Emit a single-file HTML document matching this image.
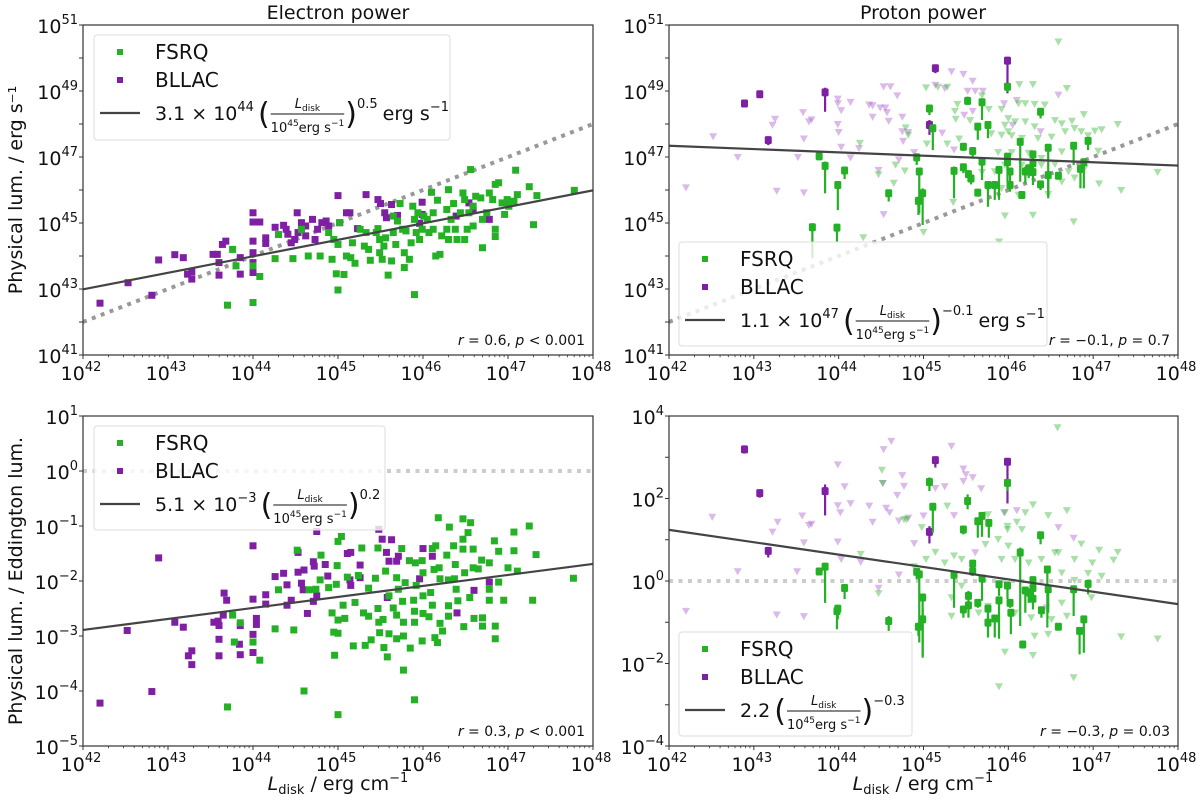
<!DOCTYPE html>
<html><head><meta charset="utf-8"><style>
html,body{margin:0;padding:0;background:#fff;}
svg{display:block;font-family:"DejaVu Sans","Liberation Sans",sans-serif;}
</style></head><body>
<svg id="fig" width="1200" height="805" viewBox="0 0 1200 805" xmlns="http://www.w3.org/2000/svg"></svg>
<script>
// ===== DATA (log10 values) =====
const tlBllacX=[42.20,42.53,42.81,42.89,43.08,43.18,43.23,43.28,43.28,43.53,43.58,43.60,43.60,43.64,43.68,43.85,43.85,44.00,44.00,44.00,44.00,44.00,44.00,44.08,44.15,44.15,44.26,44.36,44.39,44.41,44.45,44.49,44.52,44.53,44.57,44.57,44.62,44.62,44.70,44.73,44.76,44.81,44.86,44.89,45.00,45.02,45.10,45.14,45.23,45.33,45.47,45.50,45.55,45.57,45.63,45.70,45.99,45.96,45.99,46.59,46.78,46.39,46.54];
const tlBllacY=[42.57,43.19,42.81,43.88,44.04,43.95,43.45,43.52,43.30,44.05,44.05,43.80,43.42,44.35,44.45,43.95,43.45,45.31,45.03,44.45,44.10,43.80,43.50,45.03,44.55,44.38,44.87,44.93,44.81,44.66,44.40,44.50,45.31,44.71,44.81,45.01,44.91,44.61,45.11,44.50,44.81,45.01,45.06,44.91,45.83,45.01,45.31,45.31,44.83,45.86,45.71,45.59,45.31,45.16,45.56,45.23,45.63,44.99,45.26,45.39,45.11,45.21,45.61];
const tlFsrqX=[43.70,44.00,43.76,43.80,44.00,44.08,44.26,44.30,44.47,44.57,44.65,44.79,44.89,44.93,44.95,44.98,45.00,45.02,45.00,45.07,45.10,45.15,45.17,45.20,45.26,45.31,45.33,45.36,45.38,45.45,45.47,45.49,45.52,45.54,45.56,45.59,45.63,45.65,45.68,45.70,45.73,45.76,45.78,45.78,45.80,45.84,45.86,45.88,45.90,45.92,45.94,45.96,45.99,46.01,46.05,46.07,46.10,46.12,46.15,46.17,46.20,46.22,46.28,46.30,46.30,46.33,46.36,46.38,46.40,46.44,46.47,46.49,46.52,46.54,46.56,46.59,46.59,46.62,46.68,46.70,46.70,46.75,46.78,46.82,46.85,46.85,46.85,46.89,46.93,46.96,46.99,47.01,47.07,47.09,47.11,47.25,47.30,47.34,47.78,45.90,45.65,45.49,46.28,46.12,46.49];
const tlFsrqY=[42.51,42.59,44.20,43.70,43.70,43.38,43.92,44.65,43.92,44.81,44.00,44.00,44.71,43.90,44.50,43.46,44.35,45.01,42.97,43.44,44.00,43.95,44.40,43.78,44.81,44.30,44.71,44.20,43.87,44.71,44.83,44.10,43.90,44.30,44.55,43.42,43.85,44.71,44.35,45.06,45.59,44.81,44.10,43.65,44.76,43.90,44.40,45.51,42.83,44.71,45.31,44.50,44.81,45.21,45.11,44.71,45.93,45.31,44.00,45.69,44.05,44.61,45.41,46.01,44.50,45.11,45.59,44.81,44.50,45.31,45.91,45.71,44.81,45.31,46.62,45.51,44.91,45.81,45.76,44.25,45.11,45.31,45.91,45.71,46.17,44.81,44.59,46.22,45.61,45.26,45.71,45.51,45.66,46.60,45.86,46.10,44.95,45.83,45.99,45.11,45.21,44.50,44.81,44.81,44.50];

const blBllacX=[42.20,42.52,42.81,42.89,43.08,43.18,43.24,43.28,43.28,43.54,43.59,43.60,43.60,43.60,43.65,43.66,43.69,43.84,43.85,43.85,44.00,44.00,44.00,44.00,44.04,44.04,44.15,44.15,44.26,44.36,44.40,44.40,44.45,44.53,44.53,44.57,44.59,44.60,44.64,44.71,44.71,44.72,44.75,44.75,44.85,44.88,45.11,45.15,45.14,45.15,45.26,45.26,45.48,45.52,45.57,45.58,45.60,45.63,45.69,45.71,45.96,46.00,46.11,46.40,46.60,46.78];
const blBllacY=[-4.22,-2.90,-4.01,-1.58,-2.75,-2.84,-3.36,-3.27,-3.52,-2.75,-2.73,-2.81,-3.06,-3.36,-2.62,-2.22,-2.35,-3.15,-2.81,-3.34,-1.36,-2.33,-2.97,-3.30,-2.68,-2.79,-2.25,-2.42,-1.92,-1.86,-2.07,-2.44,-2.35,-1.48,-1.84,-2.04,-2.16,-1.80,-2.59,-1.65,-2.37,-1.73,-2.27,-1.10,-1.70,-1.91,-1.50,-1.48,-1.98,-2.08,-1.71,-1.94,-1.06,-1.24,-1.48,-2.30,-1.64,-1.25,-1.64,-1.55,-1.96,-1.41,-1.55,-2.58,-2.17,-2.02];
const blFsrqX=[43.70,44.08,43.76,43.85,43.78,44.00,44.26,44.30,44.48,44.52,44.60,44.66,44.74,44.79,44.80,44.89,44.93,44.95,44.96,44.98,44.99,45.00,45.00,45.00,45.00,45.04,45.06,45.08,45.11,45.18,45.20,45.24,45.28,45.30,45.32,45.36,45.36,45.39,45.44,45.47,45.47,45.48,45.49,45.53,45.54,45.56,45.58,45.60,45.60,45.65,45.69,45.69,45.69,45.71,45.75,45.76,45.77,45.77,45.77,45.79,45.84,45.85,45.89,45.90,45.90,45.90,45.91,45.92,45.99,45.99,46.00,46.00,46.00,46.07,46.09,46.11,46.11,46.13,46.14,46.15,46.17,46.19,46.20,46.20,46.23,46.28,46.30,46.30,46.30,46.31,46.36,46.37,46.38,46.39,46.41,46.47,46.47,46.47,46.48,46.49,46.53,46.55,46.56,46.59,46.59,46.60,46.65,46.69,46.70,46.70,46.78,46.78,46.78,46.84,46.85,46.85,46.89,46.89,46.95,47.00,47.07,47.07,47.11,47.25,47.29,47.33,47.77,46.18];
const blFsrqY=[-4.29,-3.44,-2.62,-2.76,-3.11,-3.11,-2.87,-2.16,-2.89,-1.44,-4.00,-2.16,-2.15,-1.98,-1.53,-2.12,-2.58,-2.93,-3.35,-2.06,-1.72,-1.28,-2.71,-2.95,-4.43,-1.19,-2.44,-2.68,-1.93,-3.18,-2.39,-1.90,-1.40,-2.58,-3.17,-2.13,-2.64,-3.07,-1.95,-1.40,-2.50,-2.75,-2.94,-2.70,-3.21,-1.82,-3.38,-2.27,-2.96,-2.49,-1.94,-2.62,-3.05,-2.15,-1.41,-2.37,-2.75,-3.00,-3.62,-2.03,-1.63,-3.22,-2.35,-2.55,-2.75,-4.16,-1.67,-2.08,-1.63,-3.09,-1.85,-2.27,-2.59,-2.65,-2.21,-1.41,-2.44,-1.79,-3.03,-1.36,-3.12,-1.76,-1.96,-2.77,-2.91,-1.53,-1.98,-2.45,-2.64,-1.02,-1.36,-1.96,-1.70,-2.15,-2.36,-0.87,-1.24,-1.42,-2.83,-1.85,-1.12,-2.30,-0.94,-1.42,-1.76,-2.68,-1.78,-1.62,-2.82,-2.67,-2.15,-2.35,-1.67,-1.27,-2.82,-3.05,-1.46,-2.02,-2.35,-1.76,-1.11,-1.45,-1.82,-1.00,-2.35,-1.52,-1.95,-0.85];

const trBllacDetX=[42.89,43.07,43.17,43.84,45.14,45.99,45.07];
const trBllacDetY=[48.62,48.90,47.51,48.96,49.69,49.92,47.97];
const trBllacDetLo=[48.54,48.84,47.36,48.37,49.54,48.93,47.67];
const trBllacDetHi=[48.70,48.96,47.60,49.10,49.76,49.98,48.12];
const trFsrqDetX=[43.69,43.98,43.77,43.84,43.99,44.07,44.59,44.92,44.95,44.94,44.99,45.07,45.11,45.36,45.47,45.47,45.52,45.53,45.56,45.58,45.64,45.64,45.69,45.69,45.76,45.76,45.84,45.89,45.99,45.99,45.99,46.02,46.02,46.14,46.16,46.20,46.24,46.29,46.29,46.29,46.38,46.38,46.47,46.47,46.59,46.77,46.85,46.89,46.94];
const trFsrqDetY=[44.87,44.86,47.02,46.73,46.15,46.59,45.90,46.99,46.56,45.67,45.90,48.47,47.87,46.58,47.31,46.69,48.70,46.48,46.35,47.18,47.92,45.92,48.66,46.86,47.97,46.15,46.15,46.61,49.13,47.01,46.84,46.56,46.15,47.46,45.85,46.56,46.66,47.08,46.81,46.54,48.37,46.17,47.28,46.45,46.43,47.34,46.64,46.84,47.49];
const trFsrqDetLo=[43.93,44.43,46.91,45.90,45.39,46.33,45.65,46.76,45.29,45.24,44.94,48.27,47.21,45.75,47.18,46.51,48.58,46.25,46.17,47.01,47.52,45.80,48.12,46.30,47.57,45.49,45.70,45.70,48.98,46.25,46.56,46.25,45.95,46.25,45.75,46.20,46.36,46.76,46.51,46.15,48.17,46.00,45.75,45.95,46.33,46.76,46.05,46.05,47.21];
const trFsrqDetHi=[44.99,44.94,47.11,46.86,46.25,46.68,46.00,47.11,46.66,45.80,46.05,48.58,47.97,46.71,47.41,46.78,48.83,46.56,46.45,47.26,47.99,46.00,48.76,46.96,48.07,46.25,46.25,46.71,49.23,47.11,46.91,46.66,46.25,47.57,45.95,46.71,46.76,47.18,46.91,46.64,48.47,46.25,47.38,46.56,46.51,47.44,46.74,46.94,47.59];
const trBllacUlX=[42.20,42.52,42.81,43.22,43.25,43.27,43.52,43.58,43.59,43.59,43.65,43.68,43.99,43.99,43.99,44.00,44.03,44.03,44.14,44.14,44.24,44.36,44.40,44.40,44.47,44.49,44.53,44.53,44.55,44.57,44.59,44.61,44.69,44.71,44.75,44.75,44.76,44.82,44.89,45.14,45.22,45.25,45.33,45.36,45.47,45.48,45.52,45.58,45.58,45.61,45.70,46.10,45.95,46.59,46.05,46.38];
const trBllacUlY=[46.07,47.62,46.99,47.97,48.15,45.97,46.99,48.35,47.55,45.92,48.07,48.13,48.76,48.62,47.99,47.75,48.41,47.30,48.66,46.98,47.26,48.58,48.56,48.21,46.60,48.49,49.13,45.26,48.49,48.35,48.09,49.13,48.86,46.92,48.21,47.77,47.48,47.75,47.14,49.18,47.73,49.08,49.59,47.22,49.51,48.27,49.00,49.30,48.39,49.00,49.00,48.72,48.62,48.88,47.97,47.77];
const trFsrqUlX=[46.59,46.13,46.29,46.69,45.03,45.17,45.28,45.37,45.40,45.38,45.69,45.77,45.92,46.00,46.08,46.12,46.20,46.31,46.43,46.55,46.63,46.75,46.89,46.78,46.86,47.02,47.10,47.29,47.76,47.33,47.07,46.77,46.29,45.96,45.89,45.00,44.29,44.25,44.79,44.82,45.04,45.28,45.42,45.55,45.80,45.92,46.04,46.16,46.35,46.51,46.67,46.94,45.69,45.84,45.96,46.16,46.39,46.55,46.71,46.90,46.63,46.78,46.47,46.12,45.92,45.76,45.35,44.78,44.67,44.65,44.47,45.88,46.04,46.24,46.39,46.63,47.06,45.96,46.00,46.20,46.31];
const trFsrqUlY=[50.49,49.20,49.20,49.08,49.10,49.12,49.12,48.39,48.60,48.15,48.86,48.45,48.45,48.17,48.07,48.62,48.62,48.60,48.58,48.11,48.01,48.09,48.29,47.87,47.77,47.79,47.83,47.99,46.54,45.99,46.19,45.04,45.24,45.22,44.43,44.72,44.56,47.42,47.89,47.67,47.40,47.40,47.55,48.11,47.71,47.67,47.65,47.57,47.57,47.61,47.77,47.65,46.54,46.56,46.76,46.76,46.76,46.78,46.56,46.66,46.25,46.37,45.87,45.85,46.05,46.03,45.63,46.58,46.76,46.21,46.47,47.14,47.14,47.12,46.96,47.16,47.18,47.97,47.77,48.07,47.92];

const brBllacDetX=[42.89,43.07,43.17,43.84,45.14,45.99,45.07];
const brBllacDetY=[3.19,2.13,0.73,2.18,2.93,2.89,1.19];
const brBllacDetLo=[3.09,2.02,0.57,1.59,2.75,1.88,0.91];
const brBllacDetHi=[3.27,2.21,0.80,2.34,2.99,2.95,1.33];
const brFsrqDetX=[43.77,43.84,43.98,43.99,44.07,44.59,44.92,44.95,44.94,44.99,44.99,45.07,45.11,45.36,45.47,45.47,45.52,45.53,45.53,45.58,45.58,45.64,45.64,45.69,45.69,45.76,45.77,45.76,45.84,45.89,45.89,45.99,45.99,46.02,46.03,46.14,46.17,46.20,46.24,46.29,46.29,46.29,46.38,46.39,46.46,46.47,46.59,46.77,46.84,46.89,46.94];
const brFsrqDetY=[0.23,0.35,-0.73,-0.67,-0.17,-0.97,0.22,0.16,-1.11,-0.40,-0.93,2.40,1.80,0.15,1.25,-0.69,1.94,-0.36,-0.59,0.42,0.23,1.45,-0.53,1.58,0.06,-0.67,1.41,-1.01,-0.91,-0.08,-0.47,2.38,-0.11,-0.53,-0.77,0.69,-1.54,-0.23,-0.28,-0.17,-0.43,0.02,1.11,-0.71,0.28,-0.20,-1.11,-0.20,-1.21,-0.93,-0.07];
const brFsrqDetLo=[0.16,-0.53,-1.17,-0.93,-0.44,-1.21,0.04,-1.49,-1.33,-1.82,-1.86,2.18,1.17,-0.65,1.13,-0.89,1.74,-0.53,-0.89,0.24,0.12,1.05,-0.65,1.07,-0.48,-1.01,1.05,-1.37,-1.37,-0.36,-1.40,2.18,-0.44,-0.65,-1.29,-1.09,-1.62,-0.77,-0.53,-0.36,-0.69,-0.08,0.89,-0.89,-1.13,-0.77,-1.17,-0.85,-1.78,-1.74,-0.32];
const brFsrqDetHi=[0.30,0.44,-0.65,-0.61,-0.11,-0.85,0.32,0.24,-1.01,-0.32,-0.69,2.51,1.88,0.24,1.33,-0.61,2.10,-0.24,-0.51,0.48,0.32,1.54,-0.44,1.66,0.12,-0.61,1.49,-0.85,-0.85,0.00,-0.40,2.46,-0.04,-0.44,-0.69,0.81,-1.45,-0.16,-0.20,-0.08,-0.36,0.08,1.17,-0.65,0.36,-0.12,-1.05,-0.12,-1.13,-0.85,0.00];
const brBllacUlX=[42.20,42.51,42.81,43.22,43.28,43.27,43.51,43.57,43.59,43.59,43.65,43.68,43.99,43.99,43.99,44.02,44.03,44.14,44.07,44.26,44.36,44.40,44.47,44.52,44.53,44.56,44.60,44.62,44.69,44.71,44.75,44.77,44.71,44.82,44.89,45.00,45.14,45.25,45.33,45.36,45.47,45.47,45.50,45.58,45.61,45.68,46.10,45.95,46.59,46.77,46.45];
const brBllacUlY=[-0.73,1.55,0.23,1.19,1.43,-0.82,0.23,1.58,0.93,-0.86,1.35,1.38,2.82,1.83,0.95,1.66,0.53,1.88,2.29,0.46,1.82,1.43,-0.17,2.37,3.19,1.77,1.66,3.39,2.08,0.15,2.56,2.30,1.46,1.53,0.91,1.58,2.25,2.29,3.27,1.59,2.72,2.42,2.58,2.51,0.69,2.24,1.71,1.66,1.30,1.04,-0.65];
const brFsrqUlX=[46.58,44.51,44.52,45.07,44.77,44.80,45.28,44.98,45.25,44.89,45.03,45.14,45.36,45.45,45.69,45.76,45.96,46.10,46.20,46.29,46.47,46.69,45.99,45.99,46.16,46.00,45.88,45.73,45.92,46.08,46.24,46.39,46.55,46.86,46.59,46.78,46.99,47.07,47.29,47.24,46.98,46.69,46.51,46.47,46.27,46.08,45.76,45.65,45.33,45.33,44.47,44.26,46.77,46.29,45.96,45.89,47.33,47.76,47.10,46.78,46.63,46.94,45.45,46.31,46.63];
const brFsrqUlY=[3.72,2.69,2.37,2.38,1.49,1.49,1.82,1.30,0.44,0.35,0.53,0.70,0.61,0.53,1.58,1.61,1.66,1.43,1.66,1.85,1.59,1.71,1.33,1.25,1.25,0.85,1.01,0.89,0.53,0.53,0.44,0.53,0.69,0.90,0.69,0.53,0.44,0.75,0.70,0.51,-0.40,-0.85,-0.93,-1.29,-0.89,-0.77,-0.61,-0.77,-0.40,-0.85,-0.30,0.65,-2.34,-1.80,-1.72,-2.56,-1.35,-1.40,0.12,0.02,0.20,0.19,-0.12,-1.33,-0.53];

const tlFit=[44.49,0.5];
const trFit=[47.04,-0.1];
const blFit=[-2.29,0.2];
const brFit=[0.34,-0.3];
const xTickExps=[42,43,44,45,46,47,48];

// ===== RENDERING =====
const NS="http://www.w3.org/2000/svg";
const svg=document.getElementById('fig');
const GREEN="#25b125", PURPLE="#7f1fa3", GREEN_L="#25b125", PURPLE_L="#a54fc6";
function el(tag,attrs,parent){const e=document.createElementNS(NS,tag);for(const k in attrs)e.setAttribute(k,attrs[k]);(parent||svg).appendChild(e);return e;}

function makePanel(name,x0,x1,y0,y1,ymin,ymax,yStep,labelStep){
  const g=el('g',{});
  
  
  const P={g,x0,x1,y0,y1,ymin,ymax};
  P.sx=v=>x0+(v-42)/6*(x1-x0);
  P.sy=v=>y1-(v-ymin)/(ymax-ymin)*(y1-y0);
  const xt=el('g',{},g);
  
  
  for(const e of xTickExps){
    const X=P.sx(e);
    el('line',{x1:X,x2:X,y1:y1,y2:y1+4,stroke:'#333','stroke-width':1},xt);
    const t=el('text',{x:X-2,y:y1+25,'font-size':19,'text-anchor':'middle',fill:'#111'},xt);
    t.textContent='10';
    const s=el('tspan',{dy:-9,'font-size':13},t); s.textContent=String(e);
    if(e<48){for(let m=2;m<10;m++){const Xm=P.sx(e+Math.log10(m));el('line',{x1:Xm,x2:Xm,y1:y1,y2:y1+2.2,stroke:'#333','stroke-width':0.8},xt);}}
  }
  const yt=el('g',{},g);
  
  
  for(let e=ymin;e<=ymax;e+=yStep){
    const Y=P.sy(e);
    el('line',{x1:x0-4,x2:x0,y1:Y,y2:Y,stroke:'#333','stroke-width':1},yt);
    if(((e-ymin)%labelStep)===0){
      const t=el('text',{x:x0-5,y:Y+8,'font-size':19,'text-anchor':'end',fill:'#111'},yt);
      t.appendChild(document.createTextNode('10'));
      const s=el('tspan',{dy:-9,'font-size':13},t); s.textContent=(e<0?'\u2212'+(-e):String(e));
    }
  }
  const clip=el('clipPath',{id:'clip-'+name},g);
  el('rect',{x:x0,y:y0,width:x1-x0,height:y1-y0},clip);
  P.plot=el('g',{'clip-path':'url(#clip-'+name+')'},g);
  return P;
}
function frame(P){
  const r=el('rect',{x:P.x0,y:P.y0,width:P.x1-P.x0,height:P.y1-P.y0,fill:'none',stroke:'#333','stroke-width':1.2},P.g);
  
  
}
function squares(P,xs,ys,color,name){
  const g=el('g',{},P.plot);
  
  
  for(let i=0;i<xs.length;i++){
    const r=el('rect',{x:P.sx(xs[i])-3.5,y:P.sy(ys[i])-3.5,width:7,height:7,fill:color},g);
    
    
  }
}
function triangles(P,xs,ys,color,name){
  const g=el('g',{},P.plot);
  
  
  for(let i=0;i<xs.length;i++){
    const X=P.sx(xs[i]),Y=P.sy(ys[i]);
    const p=el('path',{d:`M${X-4},${Y-3.3} L${X+4},${Y-3.3} L${X},${Y+3.8} Z`,fill:color,'fill-opacity':0.4},g);
    
    
  }
}
function detections(P,xs,ys,lo,hi,color,name){
  const g=el('g',{},P.plot);
  
  
  for(let i=0;i<xs.length;i++){
    const X=P.sx(xs[i]);
    const l=el('line',{x1:X,x2:X,y1:P.sy(lo[i]),y2:P.sy(hi[i]),stroke:color,'stroke-width':2.2},g);
    
    
    const r=el('rect',{x:X-3.5,y:P.sy(ys[i])-4,width:7,height:8,rx:1.5,fill:color},g);
    
    
  }
}
function fitLine(P,fit,name){
  const l=el('line',{x1:P.sx(42),y1:P.sy(fit[0]+fit[1]*(42-45)),x2:P.sx(48),y2:P.sy(fit[0]+fit[1]*(48-45)),stroke:'#444','stroke-width':2.2},P.plot);
  
  
}
function dotted(P,a0,a1,color,name){
  const l=el('line',{x1:P.sx(42),y1:P.sy(a0+a1*42),x2:P.sx(48),y2:P.sy(a0+a1*48),stroke:color,'stroke-width':4,'stroke-dasharray':'4,5.5'},P.plot);
  
  
}
function stats(P,rv,op,pv){
  const t=el('text',{x:P.x1-8,y:P.y1-10,'font-size':14,'text-anchor':'end',fill:'#111'},P.g);
  
  
  const a=el('tspan',{'font-style':'italic'},t);a.textContent='r';
  const b=el('tspan',{},t);b.textContent=' = '+rv+', ';
  const c=el('tspan',{'font-style':'italic'},t);c.textContent='p';
  const d=el('tspan',{},t);d.textContent=' '+op+' '+pv;
}
function legend(P,lx,ly,w,h,coef,coefSup,power,unit,name){
  const g=el('g',{},P.g);
  
  
  el('rect',{x:lx,y:ly,width:w,height:h,rx:3,fill:'#fff','fill-opacity':0.8,stroke:'#ddd','stroke-width':1},g);
  const rows=[ly+17,ly+45,ly+78];
  const e1=el('rect',{x:lx+23,y:rows[0]-3,width:6,height:6,fill:GREEN},g);
  
  const t1=el('text',{x:lx+61,y:rows[0]+7,'font-size':20,fill:'#111'},g);t1.textContent='FSRQ';
  
  const e2=el('rect',{x:lx+23,y:rows[1]-3,width:6,height:6,fill:PURPLE},g);
  
  const t2=el('text',{x:lx+61,y:rows[1]+7,'font-size':20,fill:'#111'},g);t2.textContent='BLLAC';
  
  const fl=el('line',{x1:lx+6,x2:lx+46,y1:rows[2],y2:rows[2],stroke:'#444','stroke-width':2.2},g);
  
  const fg=el('g',{},g);
  
  const base=rows[2]+7;
  let cx=lx+61;
  function put(str,size,dy,style){const t=el('text',{x:cx,y:base+dy,'font-size':size,fill:'#111'},fg);if(style)t.setAttribute('font-style',style);t.textContent=str;cx+=t.getComputedTextLength();return t;}
  put(coef,19,0);
  if(coefSup){put(coefSup,13,-9);}
  cx+=4;
  put('(',30,4);
  cx+=1;
  const fx=cx;
  let dcx=fx;
  function dput(str,size,dy){const t=el('text',{x:dcx,y:base+12+dy,'font-size':size,fill:'#111'},fg);t.textContent=str;dcx+=t.getComputedTextLength();return t;}
  dput('10',13,0);dput('45',9,-6);dput('erg s',13,0);dput('\u22121',9,-6);
  const fw=dcx-fx;
  const n1=el('text',{x:0,y:base-12,'font-size':13,'font-style':'italic',fill:'#111'},fg);n1.textContent='L';
  const n2=el('text',{x:0,y:base-9,'font-size':9,fill:'#111'},fg);n2.textContent='disk';
  const nw=n1.getComputedTextLength()+n2.getComputedTextLength();
  const nx=fx+(fw-nw)/2;
  n1.setAttribute('x',nx);n2.setAttribute('x',nx+n1.getComputedTextLength());
  el('line',{x1:fx,x2:fx+fw,y1:base-6,y2:base-6,stroke:'#111','stroke-width':0.9},fg);
  cx=fx+fw+1;
  put(')',30,4);
  put(power,13,-12);
  if(unit){cx+=5;put('erg s',19,0);put('\u22121',13,-9);}
}

const TL=makePanel('electron-power-panel',83,593,25,355,41,51,1,2);
const TR=makePanel('proton-power-panel',669,1178,25,355,41,51,1,2);
const BL=makePanel('electron-eddington-panel',83,593,416,746,-5,1,1,1);
const BR=makePanel('proton-eddington-panel',669,1178,416,746,-4,4,1,2);

dotted(TL,0,1,'#999','equality-line');
squares(TL,tlBllacX,tlBllacY,PURPLE,'bllac-points');
squares(TL,tlFsrqX,tlFsrqY,GREEN,'fsrq-points');
fitLine(TL,tlFit,'fit-line');
triangles(TR,trBllacUlX,trBllacUlY,PURPLE_L,'bllac-upper-limits');
triangles(TR,trFsrqUlX,trFsrqUlY,GREEN_L,'fsrq-upper-limits');
dotted(TR,0,1,'#999','equality-line');
detections(TR,trBllacDetX,trBllacDetY,trBllacDetLo,trBllacDetHi,PURPLE,'bllac-detections');
detections(TR,trFsrqDetX,trFsrqDetY,trFsrqDetLo,trFsrqDetHi,GREEN,'fsrq-detections');
fitLine(TR,trFit,'fit-line');
dotted(BL,0,0,'#ccc','eddington-limit-line');
squares(BL,blBllacX,blBllacY,PURPLE,'bllac-points');
squares(BL,blFsrqX,blFsrqY,GREEN,'fsrq-points');
fitLine(BL,blFit,'fit-line');
triangles(BR,brBllacUlX,brBllacUlY,PURPLE_L,'bllac-upper-limits');
triangles(BR,brFsrqUlX,brFsrqUlY,GREEN_L,'fsrq-upper-limits');
dotted(BR,0,0,'#ccc','eddington-limit-line');
detections(BR,brBllacDetX,brBllacDetY,brBllacDetLo,brBllacDetHi,PURPLE,'bllac-detections');
detections(BR,brFsrqDetX,brFsrqDetY,brFsrqDetLo,brFsrqDetHi,GREEN,'fsrq-detections');
fitLine(BR,brFit,'fit-line');

legend(TL,94,35,356,105,'3.1 \u00d7 10','44','0.5',true,'legend');
legend(TR,679,242,368,104,'1.1 \u00d7 10','47','\u22120.1',true,'legend');
legend(BL,94,426,291,104,'5.1 \u00d7 10','\u22123','0.2',false,'legend');
legend(BR,679,632,233,104,'2.2','','\u22120.3',false,'legend');

stats(TL,'0.6','<','0.001');
stats(TR,'\u22120.1','=','0.7');
stats(BL,'0.3','<','0.001');
stats(BR,'\u22120.3','=','0.03');
[TL,TR,BL,BR].forEach(frame);

function label(x,y,str,size,name,rot){
  const t=el('text',{x,y,'font-size':size,'text-anchor':'middle',fill:'#111'});
  if(rot)t.setAttribute('transform',`rotate(-90 ${x} ${y})`);
  t.textContent=str;
  
  
  return t;
}
label(338,19,'Electron power',19,'electron-panel-title');
label(923,19,'Proton power',19,'proton-panel-title');
label(22,190,'Physical lum. / erg s\u207b\u00b9',19,'top-y-axis-title',true);
label(22,581,'Physical lum. / Eddington lum.',19,'bottom-y-axis-title',true);
function xlabel(x,name){
  const t=el('text',{x,y:790,'font-size':19,'text-anchor':'middle',fill:'#111'});
  
  
  const a=el('tspan',{'font-style':'italic'},t);a.textContent='L';
  const b=el('tspan',{'font-size':13,dy:4},t);b.textContent='disk';
  const c=el('tspan',{dy:-4},t);c.textContent=' / erg cm';
  const d=el('tspan',{'font-size':13,dy:-8},t);d.textContent='\u22121';
}
xlabel(338,'left-x-axis-title');
xlabel(923,'right-x-axis-title');
</script>
</body></html>
